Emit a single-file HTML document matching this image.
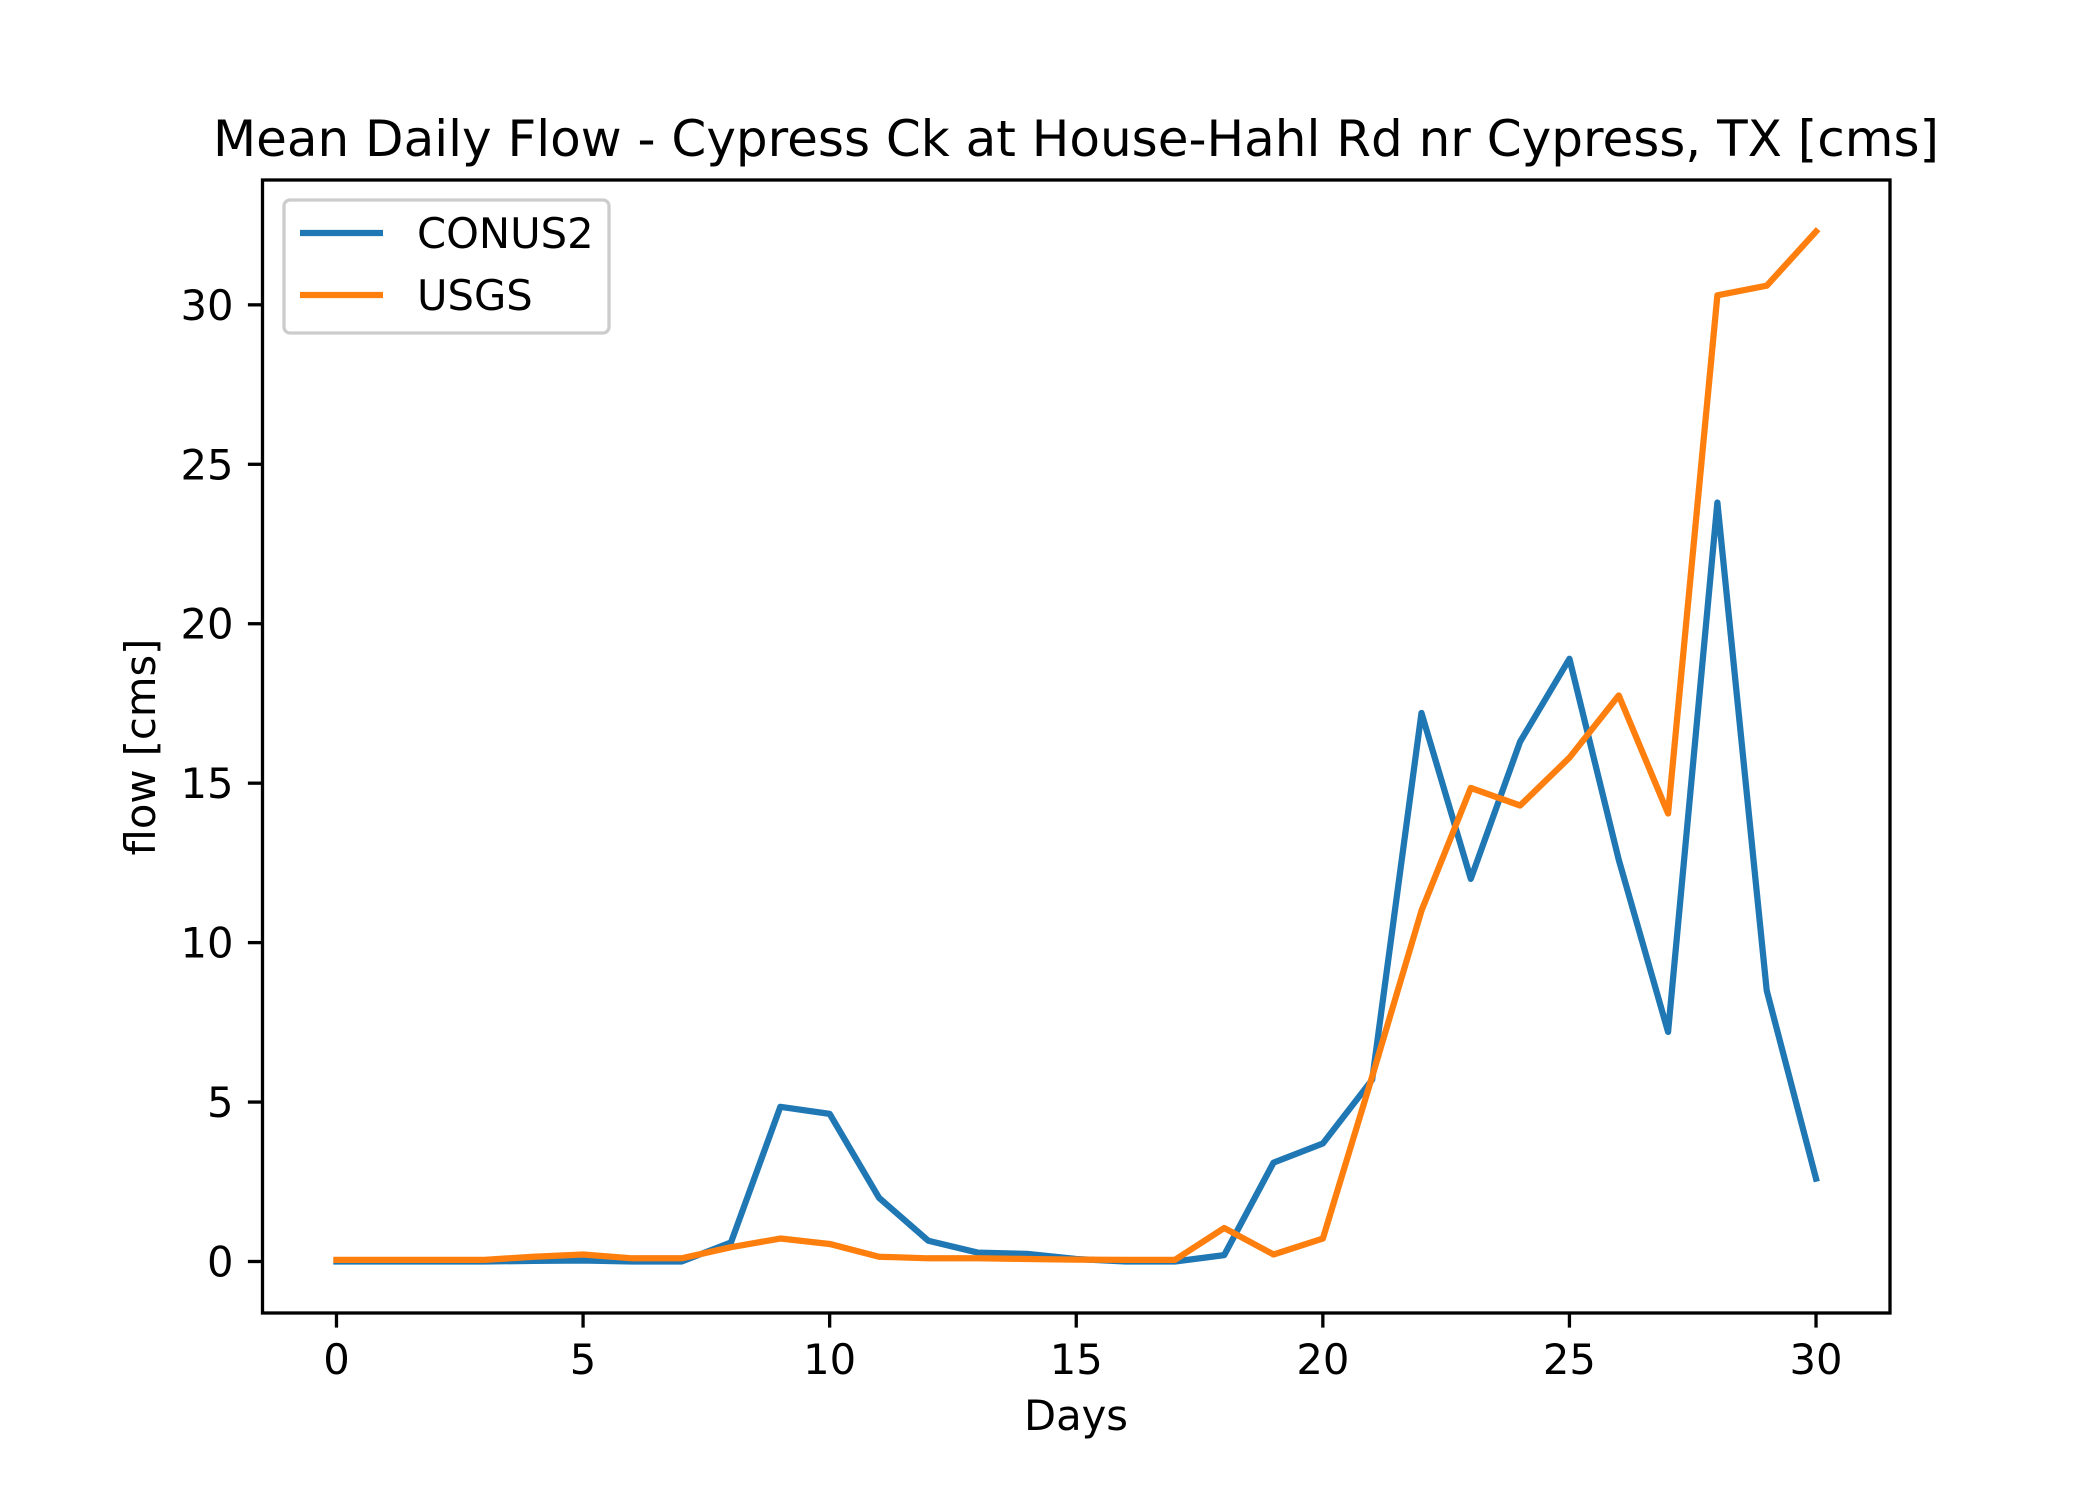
<!DOCTYPE html>
<html><head><meta charset="utf-8"><style>
html,body{margin:0;padding:0;background:#fff;}
svg{display:block;font-family:"DejaVu Sans","Liberation Sans",sans-serif;}
</style></head><body>
<svg id="chart" width="2100" height="1500" viewBox="0 0 2100 1500" xmlns="http://www.w3.org/2000/svg">
<rect width="2100" height="1500" fill="#fff"/>
<text x="1076" y="156" font-size="50" text-anchor="middle">Mean Daily Flow - Cypress Ck at House-Hahl Rd nr Cypress, TX [cms]</text>
<g id="plot"></g>
<text x="1076" y="1430" font-size="41.7" text-anchor="middle">Days</text>
<text transform="translate(155,747) rotate(-90)" font-size="41.7" text-anchor="middle">flow [cms]</text>
</svg>
<script>
const days = [0,1,2,3,4,5,6,7,8,9,10,11,12,13,14,15,16,17,18,19,20,21,22,23,24,25,26,27,28,29,30];
const conus2 = [0,0,0,0,0.02,0.03,0,0,0.6,4.85,4.63,2.0,0.65,0.28,0.24,0.08,0,0,0.2,3.1,3.7,5.7,17.2,12.0,16.3,18.9,12.6,7.2,23.8,8.5,2.6];
const usgs = [0.05,0.05,0.05,0.05,0.15,0.22,0.1,0.1,0.45,0.72,0.55,0.15,0.1,0.1,0.08,0.06,0.05,0.05,1.05,0.22,0.72,5.8,11.0,14.85,14.3,15.8,17.75,14.05,30.3,30.6,32.3];
const xTicks = [0,5,10,15,20,25,30];
const yTicks = [0,5,10,15,20,25,30];
const seriesNames = ["CONUS2","USGS"];
const NS="http://www.w3.org/2000/svg";
const L=262.5,R=1890,T=180,B=1313;
const allV=conus2.concat(usgs);
const vmin=Math.min(...allV),vmax=Math.max(...allV);
const xmin=Math.min(...days),xmax=Math.max(...days);
const xpad=(xmax-xmin)*0.05,ypad=(vmax-vmin)*0.05;
const x0=xmin-xpad,x1=xmax+xpad,y0=vmin-ypad,y1=vmax+ypad;
const sx=v=>L+(v-x0)/(x1-x0)*(R-L);
const sy=v=>B-(v-y0)/(y1-y0)*(B-T);
const g=document.getElementById('plot');
function mk(tag,attrs){const e=document.createElementNS(NS,tag);for(const k in attrs)e.setAttribute(k,attrs[k]);g.appendChild(e);return e;}
const colors=["#1f77b4","#ff7f0e"];
[conus2,usgs].forEach((s,i)=>{
  const p=mk('polyline',{points:s.map((v,j)=>sx(days[j])+','+sy(v)).join(' '),fill:'none',stroke:colors[i],'stroke-width':6.25,'stroke-linejoin':'round','stroke-linecap':'square'});
  
  
});
xTicks.forEach(t=>{
  const l=mk('line',{x1:sx(t),x2:sx(t),y1:B,y2:B+14.6,stroke:'#000','stroke-width':3.3});
  
  
  const tx=mk('text',{x:sx(t),y:B+61,'font-size':41.7,'text-anchor':'middle'});
  tx.textContent=t;
  
  
});
yTicks.forEach(t=>{
  const l=mk('line',{x1:L-14.6,x2:L,y1:sy(t),y2:sy(t),stroke:'#000','stroke-width':3.3});
  
  
  const tx=mk('text',{x:L-29,y:sy(t)+15,'font-size':41.7,'text-anchor':'end'});
  tx.textContent=t;
  
  
});
const frame=mk('rect',{x:L,y:T,width:R-L,height:B-T,fill:'none',stroke:'#000','stroke-width':3.3});


const lg=mk('rect',{x:284,y:200,width:325,height:133,rx:6,fill:'#fff','fill-opacity':0.8,stroke:'#ccc','stroke-width':3.3});


seriesNames.forEach((n,i)=>{
  const y=233+i*62;
  const l=mk('line',{x1:300,x2:383,y1:y,y2:y,stroke:colors[i],'stroke-width':6.25});
  
  
  const tx=mk('text',{x:417,y:y+15,'font-size':41.7});
  tx.textContent=n;
  
  
});
</script>
</body></html>
